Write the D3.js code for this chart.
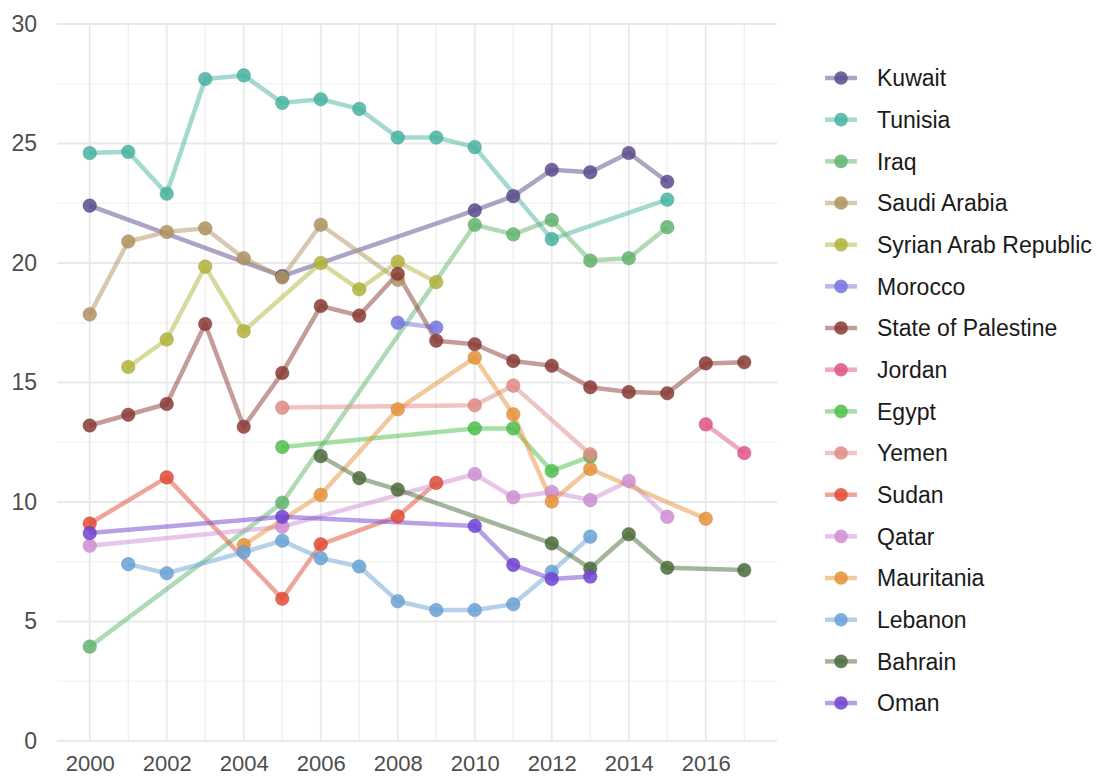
<!DOCTYPE html>
<html>
<head>
<meta charset="utf-8">
<script src="https://cdn.jsdelivr.net/npm/d3@7"></script>
<style>
  body { margin: 0; background: #fff; }
  text { font-family: "Liberation Sans", Arial, sans-serif; }
</style>
</head>
<body>
<div id="lineChart"></div>
<script>
// data: [year, value]
var countries = ["Kuwait", "Tunisia", "Iraq", "Saudi Arabia", "Syrian Arab Republic", "Morocco",
  "State of Palestine", "Jordan", "Egypt", "Yemen", "Sudan", "Qatar", "Mauritania", "Lebanon", "Bahrain", "Oman"]

var kuwait = [[2000, 22.4], [2005, 19.45], [2010, 22.2], [2011, 22.8], [2012, 23.9], [2013, 23.8], [2014, 24.6], [2015, 23.4]]
var tunisia = [[2000, 24.6], [2001, 24.65], [2002, 22.9], [2003, 27.7], [2004, 27.85], [2005, 26.7], [2006, 26.85],
  [2007, 26.45], [2008, 25.25], [2009, 25.25], [2010, 24.85], [2012, 21.0], [2015, 22.65]]
var iraq = [[2000, 3.95], [2005, 9.97], [2010, 21.6], [2011, 21.2], [2012, 21.8], [2013, 20.1], [2014, 20.2], [2015, 21.5]]
var saudiArabia = [[2000, 17.85], [2001, 20.9], [2002, 21.3], [2003, 21.45], [2004, 20.2], [2005, 19.4], [2006, 21.6], [2008, 19.3]]
var syria = [[2001, 15.65], [2002, 16.8], [2003, 19.85], [2004, 17.15], [2006, 20.0], [2007, 18.9], [2008, 20.05], [2009, 19.2]]
var morocco = [[2008, 17.5], [2009, 17.3]]
var palestine = [[2000, 13.2], [2001, 13.65], [2002, 14.1], [2003, 17.45], [2004, 13.15], [2005, 15.4], [2006, 18.2],
  [2007, 17.8], [2008, 19.55], [2009, 16.75], [2010, 16.6], [2011, 15.9], [2012, 15.7], [2013, 14.8], [2014, 14.6],
  [2015, 14.55], [2016, 15.8], [2017, 15.85]]
var jordan = [[2016, 13.25], [2017, 12.05]]
var egypt = [[2005, 12.3], [2010, 13.08], [2011, 13.08], [2012, 11.3], [2013, 11.9]]
var yemen = [[2005, 13.95], [2010, 14.05], [2011, 14.87], [2013, 12.0]]
var sudan = [[2000, 9.1], [2002, 11.03], [2005, 5.95], [2006, 8.23], [2008, 9.4], [2009, 10.8]]
var qatar = [[2000, 8.17], [2005, 8.97], [2010, 11.17], [2011, 10.2], [2012, 10.42], [2013, 10.08], [2014, 10.88], [2015, 9.38]]
var mauritania = [[2004, 8.2], [2006, 10.3], [2008, 13.88], [2010, 16.04], [2011, 13.67], [2012, 10.02], [2013, 11.38], [2016, 9.3]]
var lebanon = [[2001, 7.4], [2002, 7.02], [2004, 7.9], [2005, 8.38], [2006, 7.65], [2007, 7.3], [2008, 5.85], [2009, 5.48],
  [2010, 5.48], [2011, 5.72], [2012, 7.08], [2013, 8.55]]
var bahrain = [[2006, 11.92], [2007, 11.0], [2008, 10.52], [2012, 8.27], [2013, 7.22], [2014, 8.65], [2015, 7.25], [2017, 7.15]]
var oman = [[2000, 8.7], [2005, 9.38], [2010, 9.0], [2011, 7.37], [2012, 6.78], [2013, 6.88]]

var seriesValues = [kuwait, tunisia, iraq, saudiArabia, syria, morocco, palestine, jordan, egypt, yemen, sudan,
  qatar, mauritania, lebanon, bahrain, oman]

var colors = ["#5b4a8c", "#47b3a0", "#62b46d", "#b0935f", "#b1b33b", "#7373e0", "#8a3a35", "#e05387",
  "#4ec04b", "#e08a86", "#e04b35", "#cf8ed3", "#e69239", "#69a2d6", "#4b6b3a", "#7042d2"]

var yTicks = [0, 5, 10, 15, 20, 25, 30]
var xTicks = [2000, 2002, 2004, 2006, 2008, 2010, 2012, 2014, 2016]

function drawLines() {
  var data = countries.map((name, i) => ({ name: name, color: colors[i], values: seriesValues[i] }))
  var xAccessor = d => d[0]
  var yAccessor = d => d[1]

  let dimensions = {
    width: 1099,
    height: 776,
    margin: { top: 24, right: 322, bottom: 35, left: 57 },
  }
  dimensions.boundedWidth = dimensions.width - dimensions.margin.left - dimensions.margin.right
  dimensions.boundedHeight = dimensions.height - dimensions.margin.top - dimensions.margin.bottom

  var wrapper = d3.select("#lineChart")
    .append("svg")
    .attr("width", dimensions.width)
    .attr("height", dimensions.height)

  var bounds = wrapper.append("g")
    .attr("transform", `translate(${dimensions.margin.left},${dimensions.margin.top})`)

  // ggplot-like 5% expansion on x
  var xPad = (2017 - 2000) * 0.05
  var xScale = d3.scaleLinear()
    .domain([2000 - xPad, 2017 + xPad])
    .range([0, dimensions.boundedWidth])

  var yScale = d3.scaleLinear()
    .domain([0, 30])
    .range([dimensions.boundedHeight, 0])

  // grid
  var grid = bounds.append("g").attr("class", "grid")
  var minorX = d3.range(2001, 2018, 2)
  var minorY = d3.range(2.5, 30, 5)
  grid.selectAll(".minor-x").data(minorX).enter().append("line")
    .attr("x1", d => xScale(d)).attr("x2", d => xScale(d))
    .attr("y1", 0).attr("y2", dimensions.boundedHeight)
    .attr("stroke", "#eeeeee").attr("stroke-width", 1.2)
  grid.selectAll(".minor-y").data(minorY).enter().append("line")
    .attr("x1", 0).attr("x2", dimensions.boundedWidth)
    .attr("y1", d => yScale(d)).attr("y2", d => yScale(d))
    .attr("stroke", "#f0f0f0").attr("stroke-width", 1.2)
  grid.selectAll(".major-x").data(xTicks).enter().append("line")
    .attr("x1", d => xScale(d)).attr("x2", d => xScale(d))
    .attr("y1", 0).attr("y2", dimensions.boundedHeight)
    .attr("stroke", "#e9e9e9").attr("stroke-width", 1.8)
  grid.selectAll(".major-y").data(yTicks).enter().append("line")
    .attr("x1", 0).attr("x2", dimensions.boundedWidth)
    .attr("y1", d => yScale(d)).attr("y2", d => yScale(d))
    .attr("stroke", "#e9e9e9").attr("stroke-width", 1.8)

  // axes (text only)
  var xAxis = bounds.append("g")
    .attr("transform", `translate(0,${dimensions.boundedHeight})`)
    .call(d3.axisBottom(xScale).tickValues(xTicks).tickFormat(d3.format("d")).tickSize(0).tickPadding(14))
  var yAxis = bounds.append("g")
    .call(d3.axisLeft(yScale).tickValues(yTicks).tickSize(0).tickPadding(20))
  ;[xAxis, yAxis].forEach(ax => {
    ax.select(".domain").remove()
    ax.selectAll("text")
      .attr("fill", "#4d4d4d")
      .style("font-size", "23px")
      .style("font-family", "'Liberation Sans', Arial, sans-serif")
  })
  xAxis.selectAll("text").attr("dy", "0.71em").style("font-size", "22px")

  var lineGenerator = d3.line()
    .x(d => xScale(xAccessor(d)))
    .y(d => yScale(yAccessor(d)))

  bounds.append("g").selectAll("path")
    .data(data)
    .enter()
    .append("path")
    .attr("d", d => lineGenerator(d.values))
    .attr("fill", "none")
    .attr("stroke", d => d.color)
    .attr("stroke-opacity", 0.5)
    .attr("stroke-width", 4.5)
    .attr("stroke-linejoin", "round")

  var pointGroups = bounds.append("g").selectAll("g")
    .data(data)
    .enter()
    .append("g")

  pointGroups.selectAll("circle")
    .data(d => d.values.map(v => ({ v: v, color: d.color })))
    .enter()
    .append("circle")
    .attr("cx", d => xScale(xAccessor(d.v)))
    .attr("cy", d => yScale(yAccessor(d.v)))
    .attr("r", 6.8)
    .attr("fill", d => d.color)
    .attr("fill-opacity", 0.85)
    .attr("stroke", d => d3.color(d.color).darker(0.6))
    .attr("stroke-opacity", 0.35)
    .attr("stroke-width", 1)

  // legend
  var legend = wrapper.append("g")
    .attr("transform", "translate(825,78)")

  var items = legend.selectAll("g")
    .data(data)
    .enter()
    .append("g")
    .attr("transform", (d, i) => `translate(0,${i * 41.67})`)

  items.append("line")
    .attr("x1", 0).attr("x2", 32)
    .attr("stroke", d => d.color)
    .attr("stroke-opacity", 0.5)
    .attr("stroke-width", 4.5)
  items.append("circle")
    .attr("cx", 16)
    .attr("r", 6.8)
    .attr("fill", d => d.color)
    .attr("fill-opacity", 0.85)
  items.append("text")
    .attr("x", 52)
    .attr("dy", "0.36em")
    .attr("fill", "#1a1a1a")
    .style("font-size", "23px")
    .text(d => d.name)
}

drawLines()
</script>
</body>
</html>
